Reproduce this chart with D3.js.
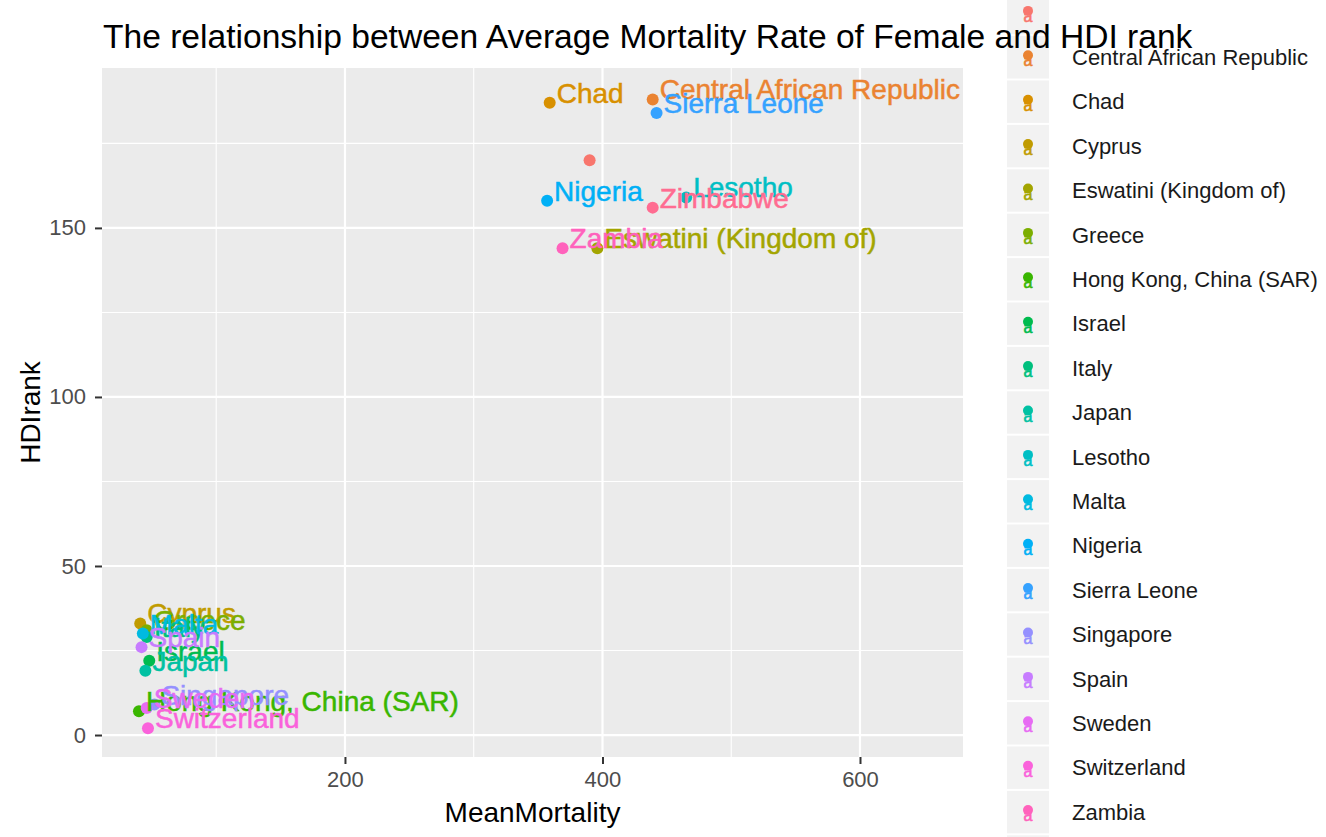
<!DOCTYPE html>
<html>
<head>
<meta charset="utf-8">
<script src="https://cdn.jsdelivr.net/npm/d3@7"></script>
<style>
  body { margin: 0; background: #fff; }
  svg { display: block; font-family: "Liberation Sans", Arial, sans-serif; }
</style>
</head>
<body>
<div id="chart"></div>
<script>
// data (first country name is an empty string in the source)
const countries = [
  "", "Central African Republic", "Chad", "Cyprus", "Eswatini (Kingdom of)",
  "Greece", "Hong Kong, China (SAR)", "Israel", "Italy", "Japan", "Lesotho",
  "Malta", "Nigeria", "Sierra Leone", "Singapore", "Spain", "Sweden",
  "Switzerland", "Zambia", "Zimbabwe"
];
const meanMortality = [390, 439, 359, 41, 396, 46, 40, 48, 46, 45, 465, 43, 357, 442, 52, 42, 46, 47, 369, 439];
const hdiRank = [170, 188, 187, 33, 144, 31, 7, 22, 29, 19, 159, 30, 158, 184, 9, 26, 8, 2, 144, 156];
const xTicks = [200, 400, 600];
const xMinor = [100, 300, 500];
const yTicks = [0, 50, 100, 150];
const yMinor = [25, 75, 125, 175];

// ggplot hue palette for 20 levels
const palette = [
  "#F8766D", "#EA8331", "#D89000", "#C09B00", "#A3A500", "#7CAE00", "#39B600",
  "#00BB4E", "#00BF7D", "#00C1A3", "#00BFC4", "#00BAE0", "#00B0F6", "#35A2FF",
  "#9590FF", "#C77CFF", "#E76BF3", "#FA62DB", "#FF62BC", "#FF6C91"
];

const W = 1326, H = 837;
const PANEL = { left: 102, right: 963, top: 68, bottom: 757 };

const data = countries.map((c, i) => ({ country: c, x: meanMortality[i], y: hdiRank[i] }));

const svg = d3.select("#chart").append("svg").attr("width", W).attr("height", H);

const x = d3.scaleLinear().domain([11.3, 680]).range([PANEL.left, PANEL.right]);
const y = d3.scaleLinear().domain([-6.5, 197.3]).range([PANEL.bottom, PANEL.top]);
const color = d3.scaleOrdinal().domain(countries).range(palette);

// panel background
svg.append("rect")
  .attr("x", PANEL.left).attr("y", PANEL.top)
  .attr("width", PANEL.right - PANEL.left).attr("height", PANEL.bottom - PANEL.top)
  .attr("fill", "#EBEBEB");

// grid lines
const grid = svg.append("g");
grid.selectAll(".xminor").data(xMinor).enter().append("line")
  .attr("x1", d => x(d)).attr("x2", d => x(d))
  .attr("y1", PANEL.top).attr("y2", PANEL.bottom)
  .attr("stroke", "#fff").attr("stroke-width", 1.1);
grid.selectAll(".yminor").data(yMinor).enter().append("line")
  .attr("x1", PANEL.left).attr("x2", PANEL.right)
  .attr("y1", d => y(d)).attr("y2", d => y(d))
  .attr("stroke", "#fff").attr("stroke-width", 1.1);
grid.selectAll(".xmajor").data(xTicks).enter().append("line")
  .attr("x1", d => x(d)).attr("x2", d => x(d))
  .attr("y1", PANEL.top).attr("y2", PANEL.bottom)
  .attr("stroke", "#fff").attr("stroke-width", 2.2);
grid.selectAll(".ymajor").data(yTicks).enter().append("line")
  .attr("x1", PANEL.left).attr("x2", PANEL.right)
  .attr("y1", d => y(d)).attr("y2", d => y(d))
  .attr("stroke", "#fff").attr("stroke-width", 2.2);

// axes
const xAxis = svg.append("g")
  .attr("transform", `translate(0, ${PANEL.bottom})`)
  .call(d3.axisBottom(x).tickValues(xTicks).tickSize(7).tickPadding(7));
const yAxis = svg.append("g")
  .attr("transform", `translate(${PANEL.left}, 0)`)
  .call(d3.axisLeft(y).tickValues(yTicks).tickSize(7).tickPadding(9));
[xAxis, yAxis].forEach(a => {
  a.select(".domain").remove();
  a.selectAll(".tick line").attr("stroke", "#333").attr("stroke-width", 2);
  a.selectAll(".tick text")
    .attr("fill", "#4D4D4D")
    .style("font-size", "22px")
    .style("font-family", "Liberation Sans, Arial, sans-serif");
});

// points
svg.append("g").selectAll("circle")
  .data(data).enter().append("circle")
  .attr("cx", d => x(d.x)).attr("cy", d => y(d.y))
  .attr("r", 6)
  .attr("fill", d => color(d.country));

// text labels, clipped to the panel
svg.append("clipPath").attr("id", "panel-clip")
  .append("rect")
  .attr("x", PANEL.left).attr("y", PANEL.top)
  .attr("width", PANEL.right - PANEL.left).attr("height", PANEL.bottom - PANEL.top);

svg.append("g").attr("clip-path", "url(#panel-clip)")
  .selectAll("text")
  .data(data).enter().append("text")
  .attr("x", d => x(d.x) + 7)
  .attr("y", d => y(d.y))
  .attr("fill", d => color(d.country))
  .attr("stroke", d => color(d.country))
  .attr("stroke-width", 0.5)
  .style("font-size", "28px")
  .text(d => d.country);

// legend (taller than the page, runs off top and bottom)
const ROW0 = 12.9, ROW_STEP = 44.4, KEY_X = 1007, KEY_W = 42;
const legend = svg.append("g");
const rows = legend.selectAll(".row")
  .data(countries).enter().append("g")
  .attr("transform", (d, i) => `translate(0, ${ROW0 + i * ROW_STEP})`);
rows.append("rect")
  .attr("x", KEY_X).attr("y", -ROW_STEP / 2 + 1)
  .attr("width", KEY_W).attr("height", ROW_STEP - 2)
  .attr("fill", "#F2F2F2");
rows.append("circle")
  .attr("cx", KEY_X + KEY_W / 2).attr("cy", -2)
  .attr("r", 5)
  .attr("fill", d => color(d));
rows.append("text")
  .attr("x", KEY_X + KEY_W / 2).attr("y", 9)
  .attr("text-anchor", "middle")
  .attr("fill", d => color(d))
  .attr("stroke", d => color(d))
  .attr("stroke-width", 0.6)
  .style("font-size", "16px")
  .text("a");
rows.append("text")
  .attr("x", 1072).attr("y", 0)
  .attr("dy", "0.35em")
  .attr("fill", "#1A1A1A")
  .style("font-size", "22px")
  .text(d => d);

// axis titles
svg.append("text")
  .attr("x", (PANEL.left + PANEL.right) / 2).attr("y", 822)
  .attr("text-anchor", "middle")
  .style("font-size", "28px")
  .text("MeanMortality");
svg.append("text")
  .attr("transform", `translate(40, ${(PANEL.top + PANEL.bottom) / 2}) rotate(-90)`)
  .attr("text-anchor", "middle")
  .style("font-size", "28px")
  .text("HDIrank");

// title (drawn over the legend like in the original)
svg.append("text")
  .attr("x", 103).attr("y", 48)
  .style("font-size", "33.6px")
  .text("The relationship between Average Mortality Rate of Female and HDI rank");
</script>
</body>
</html>
